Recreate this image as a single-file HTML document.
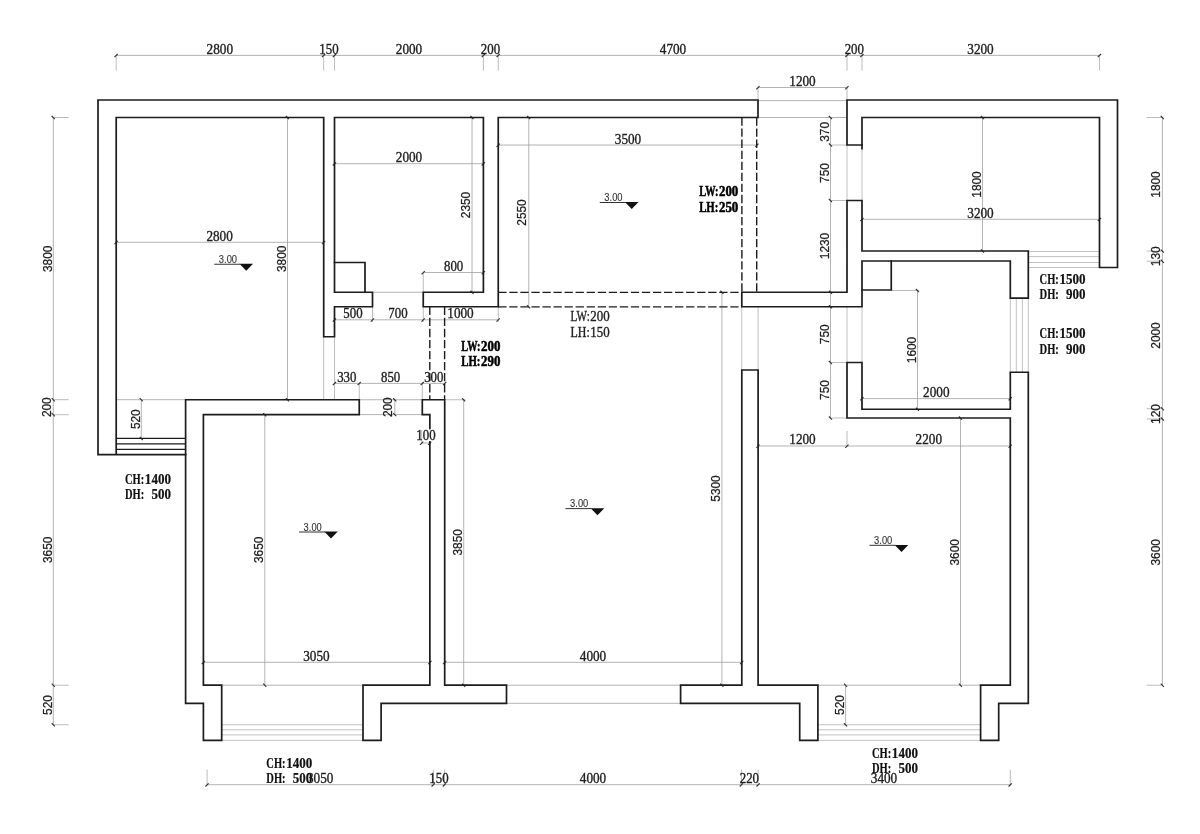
<!DOCTYPE html>
<html lang="zh"><head><meta charset="utf-8"><title>Floor plan</title>
<style>
html,body{margin:0;padding:0;background:#fff}
body{width:1200px;height:834px;overflow:hidden}
svg{display:block;filter:grayscale(1)}
.w{fill:none;stroke:#1c1c1c;stroke-width:1.7;stroke-linejoin:miter;stroke-linecap:square}
.w2{fill:none;stroke:#1c1c1c;stroke-width:1.25}
.t{fill:none;stroke:#a0a0a0;stroke-width:0.8}
.x{fill:none;stroke:#ababab;stroke-width:0.8}
.x2{fill:none;stroke:#adadad;stroke-width:0.75}
.k{fill:none;stroke:#333;stroke-width:1.15;stroke-linecap:butt}
.ds{fill:none;stroke:#1c1c1c;stroke-width:1.4;stroke-dasharray:8.3 2.75}
.m{fill:none;stroke:#333;stroke-width:1}
text{fill:#1e1e1e;stroke:#1e1e1e;stroke-width:0.36;font-family:"Liberation Serif",serif;font-size:13.8px}
.v{font-family:"Liberation Sans",sans-serif;font-size:13.1px;stroke-width:0.25}
.e{font-family:"Liberation Sans",sans-serif;font-size:11.5px;fill:#333;stroke:#333;stroke-width:0.12}
.b{font-weight:bold;font-size:13.6px;fill:#000;stroke:#000;stroke-width:0.5}
.r{font-size:13.6px}
.c{font-weight:bold;font-size:13.8px;fill:#111;stroke:#111;stroke-width:0.2}
</style></head>
<body>
<svg width="1200" height="834" viewBox="0 0 1200 834">
<rect x="0" y="0" width="1200" height="834" fill="#ffffff"/>
<g id="thin">
<path class="t" d="M116.2,55.4 L1099.5,55.4"/>
<path class="x" d="M116.2,55.4 L116.2,70.6"/>
<path class="x" d="M323.7,55.4 L323.7,70.6"/>
<path class="x" d="M334.5,55.4 L334.5,70.6"/>
<path class="x" d="M483.4,55.4 L483.4,70.6"/>
<path class="x" d="M498.25,55.4 L498.25,70.6"/>
<path class="x" d="M847,55.4 L847,70.6"/>
<path class="x" d="M862,55.4 L862,70.6"/>
<path class="x" d="M1099.5,55.4 L1099.5,70.6"/>
<path class="t" d="M758,87.5 L847,87.5"/>
<path class="x" d="M758,87.5 L758,100"/>
<path class="x" d="M847,87.5 L847,100"/>
<path class="t" d="M758,100.6 L847,100.6"/>
<path class="t" d="M758,117.5 L847,117.5"/>
<path class="t" d="M53.3,117.5 L53.3,724.75"/>
<path class="x" d="M53.3,117.5 L68.7,117.5"/>
<path class="x" d="M53.3,399.7 L68.7,399.7"/>
<path class="x" d="M53.3,414.7 L68.7,414.7"/>
<path class="x" d="M53.3,685.2 L68.7,685.2"/>
<path class="x" d="M53.3,724.75 L68.7,724.75"/>
<path class="t" d="M1162.4,117.5 L1162.4,685.2"/>
<path class="x" d="M1146.6,117.5 L1162.4,117.5"/>
<path class="x" d="M1146.6,251.1 L1162.4,251.1"/>
<path class="x" d="M1146.6,261.2 L1162.4,261.2"/>
<path class="x" d="M1146.6,408.7 L1162.4,408.7"/>
<path class="x" d="M1146.6,419 L1162.4,419"/>
<path class="x" d="M1146.6,685.2 L1162.4,685.2"/>
<path class="t" d="M207.1,784.7 L1010.3,784.7"/>
<path class="x" d="M207.1,769.6 L207.1,784.7"/>
<path class="x" d="M433.3,769.6 L433.3,784.7"/>
<path class="x" d="M444.5,769.6 L444.5,784.7"/>
<path class="x" d="M741.4,769.6 L741.4,784.7"/>
<path class="x" d="M758.2,769.6 L758.2,784.7"/>
<path class="x" d="M1010.3,769.6 L1010.3,784.7"/>
<path class="t" d="M116.2,242.3 L323.7,242.3"/>
<path class="t" d="M287.5,117.5 L287.5,399.7"/>
<path class="t" d="M116.2,399.7 L185.6,399.7"/>
<path class="t" d="M141.3,399.7 L141.3,438.4"/>
<path class="t" d="M334.5,163.7 L483.4,163.7"/>
<path class="t" d="M472,117.5 L472,292.25"/>
<path class="t" d="M423.25,272.5 L483.4,272.5"/>
<path class="x" d="M423.25,272.5 L423.25,292.25"/>
<path class="t" d="M372.5,292.25 L423.25,292.25"/>
<path class="t" d="M334.5,319.8 L498.25,319.8"/>
<path class="x" d="M334.5,306.75 L334.5,322"/>
<path class="x" d="M372.5,306.75 L372.5,322"/>
<path class="x" d="M423.25,306.75 L423.25,322"/>
<path class="x" d="M498.25,306.75 L498.25,322"/>
<path class="t" d="M498.25,145 L757,145"/>
<path class="t" d="M528.75,117.5 L528.75,306.75"/>
<path class="t" d="M334.5,383.4 L444.7,383.4"/>
<path class="x" d="M323.7,336.75 L323.7,399.75"/>
<path class="x" d="M334.5,336.75 L334.5,399.75"/>
<path class="x" d="M359.25,383.4 L359.25,399.75"/>
<path class="x" d="M422.3,383.4 L422.3,399.75"/>
<path class="t" d="M359.25,399.75 L422.3,399.75"/>
<path class="t" d="M359.25,414.6 L422.3,414.6"/>
<path class="t" d="M394.8,399.75 L394.8,414.6"/>
<path class="t" d="M421.7,443 L429.8,443"/>
<path class="x" d="M421.7,430 L421.7,443"/>
<path class="x" d="M446,399.75 L465.4,399.75"/>
<path class="t" d="M463.7,399.75 L463.7,685.2"/>
<path class="t" d="M721.9,292.25 L721.9,685.2"/>
<path class="x2" d="M741.8,306.75 L741.8,370"/>
<path class="x2" d="M758.1,306.75 L758.1,370"/>
<path class="x2" d="M847,306.75 L847,362.5"/>
<path class="x2" d="M862,306.75 L862,362.5"/>
<path class="x2" d="M847,145 L847,200.5"/>
<path class="x2" d="M862,145 L862,200.5"/>
<path class="t" d="M830.5,117.5 L830.5,418"/>
<path class="x" d="M830.5,117.5 L847,117.5"/>
<path class="x" d="M830.5,145 L847,145"/>
<path class="x" d="M830.5,200.5 L847,200.5"/>
<path class="x" d="M830.5,362.5 L847,362.5"/>
<path class="x" d="M830.5,418 L847,418"/>
<path class="t" d="M862,219.3 L1099.5,219.3"/>
<path class="t" d="M982.5,117.5 L982.5,251"/>
<path class="x2" d="M1028.3,251.5 L1099.5,251.5"/>
<path class="x2" d="M1028.3,256.6 L1099.5,256.6"/>
<path class="x2" d="M1028.3,262.5 L1099.5,262.5"/>
<path class="x2" d="M1028.3,267.5 L1099.5,267.5"/>
<path class="x" d="M891.25,290.5 L919,290.5"/>
<path class="t" d="M917.5,290.5 L917.5,409.25"/>
<path class="t" d="M862,398.6 L1010.3,398.6"/>
<path class="x2" d="M1010.3,298 L1010.3,372.25"/>
<path class="x2" d="M1016.3,298 L1016.3,372.25"/>
<path class="x2" d="M1022.4,298 L1022.4,372.25"/>
<path class="x2" d="M1028.3,298 L1028.3,372.25"/>
<path class="t" d="M758.1,446 L1010.3,446"/>
<path class="x" d="M847,431 L847,446"/>
<path class="t" d="M960.5,418 L960.5,685.2"/>
<path class="t" d="M203.4,662.3 L430,662.3"/>
<path class="t" d="M444.7,662.3 L741.8,662.3"/>
<path class="t" d="M264.8,414.7 L264.8,685.2"/>
<path class="t" d="M221.7,685.2 L363,685.2"/>
<path class="x2" d="M221.7,724.75 L363,724.75"/>
<path class="x2" d="M221.7,729.8 L363,729.8"/>
<path class="x2" d="M221.7,734.9 L363,734.9"/>
<path class="x2" d="M221.7,740.4 L363,740.4"/>
<path class="t" d="M506.5,685.2 L680.6,685.2"/>
<path class="t" d="M506.5,703.3 L680.6,703.3"/>
<path class="t" d="M817.9,685.2 L980.6,685.2"/>
<path class="x2" d="M817.9,724.75 L980.6,724.75"/>
<path class="x2" d="M817.9,729.8 L980.6,729.8"/>
<path class="x2" d="M817.9,734.9 L980.6,734.9"/>
<path class="x2" d="M817.9,740.4 L980.6,740.4"/>
<path class="t" d="M845.6,685.2 L845.6,724.75"/>
</g>
<g id="ticks">
<path class="k" d="M114.5,57.2 L117.7,54"/>
<path class="k" d="M322,57.2 L325.2,54"/>
<path class="k" d="M332.8,57.2 L336,54"/>
<path class="k" d="M481.7,57.2 L484.9,54"/>
<path class="k" d="M496.55,57.2 L499.75,54"/>
<path class="k" d="M845.3,57.2 L848.5,54"/>
<path class="k" d="M860.3,57.2 L863.5,54"/>
<path class="k" d="M1097.8,57.2 L1101,54"/>
<path class="k" d="M756.3,89.3 L759.5,86.1"/>
<path class="k" d="M845.3,89.3 L848.5,86.1"/>
<path class="k" d="M51.7,116 L54.8,119.1"/>
<path class="k" d="M51.7,398.2 L54.8,401.3"/>
<path class="k" d="M51.7,413.2 L54.8,416.3"/>
<path class="k" d="M51.7,683.7 L54.8,686.8"/>
<path class="k" d="M51.7,723.25 L54.8,726.35"/>
<path class="k" d="M1160.8,116 L1163.9,119.1"/>
<path class="k" d="M1160.8,249.6 L1163.9,252.7"/>
<path class="k" d="M1160.8,259.7 L1163.9,262.8"/>
<path class="k" d="M1160.8,407.2 L1163.9,410.3"/>
<path class="k" d="M1160.8,417.5 L1163.9,420.6"/>
<path class="k" d="M1160.8,683.7 L1163.9,686.8"/>
<path class="k" d="M205.4,786.5 L208.6,783.3"/>
<path class="k" d="M431.6,786.5 L434.8,783.3"/>
<path class="k" d="M442.8,786.5 L446,783.3"/>
<path class="k" d="M739.7,786.5 L742.9,783.3"/>
<path class="k" d="M756.5,786.5 L759.7,783.3"/>
<path class="k" d="M1008.6,786.5 L1011.8,783.3"/>
<path class="k" d="M114.5,244.1 L117.7,240.9"/>
<path class="k" d="M322,244.1 L325.2,240.9"/>
<path class="k" d="M285.9,116 L289,119.1"/>
<path class="k" d="M285.9,398.2 L289,401.3"/>
<path class="k" d="M139.7,398.2 L142.8,401.3"/>
<path class="k" d="M139.7,436.9 L142.8,440"/>
<path class="k" d="M332.8,165.5 L336,162.3"/>
<path class="k" d="M481.7,165.5 L484.9,162.3"/>
<path class="k" d="M470.4,116 L473.5,119.1"/>
<path class="k" d="M470.4,290.75 L473.5,293.85"/>
<path class="k" d="M421.55,274.3 L424.75,271.1"/>
<path class="k" d="M481.7,274.3 L484.9,271.1"/>
<path class="k" d="M332.8,321.6 L336,318.4"/>
<path class="k" d="M370.8,321.6 L374,318.4"/>
<path class="k" d="M421.55,321.6 L424.75,318.4"/>
<path class="k" d="M496.55,321.6 L499.75,318.4"/>
<path class="k" d="M496.55,146.8 L499.75,143.6"/>
<path class="k" d="M755.3,146.8 L758.5,143.6"/>
<path class="k" d="M527.15,116 L530.25,119.1"/>
<path class="k" d="M527.15,305.25 L530.25,308.35"/>
<path class="k" d="M332.8,385.2 L336,382"/>
<path class="k" d="M357.55,385.2 L360.75,382"/>
<path class="k" d="M420.6,385.2 L423.8,382"/>
<path class="k" d="M443,385.2 L446.2,382"/>
<path class="k" d="M393.2,398.25 L396.3,401.35"/>
<path class="k" d="M393.2,413.1 L396.3,416.2"/>
<path class="k" d="M420,444.8 L423.2,441.6"/>
<path class="k" d="M428.1,444.8 L431.3,441.6"/>
<path class="k" d="M462.1,398.25 L465.2,401.35"/>
<path class="k" d="M462.1,683.7 L465.2,686.8"/>
<path class="k" d="M720.3,290.75 L723.4,293.85"/>
<path class="k" d="M720.3,683.7 L723.4,686.8"/>
<path class="k" d="M828.9,116 L832,119.1"/>
<path class="k" d="M828.9,143.5 L832,146.6"/>
<path class="k" d="M828.9,199 L832,202.1"/>
<path class="k" d="M828.9,290.75 L832,293.85"/>
<path class="k" d="M828.9,305.25 L832,308.35"/>
<path class="k" d="M828.9,361 L832,364.1"/>
<path class="k" d="M828.9,416.5 L832,419.6"/>
<path class="k" d="M860.3,221.1 L863.5,217.9"/>
<path class="k" d="M1097.8,221.1 L1101,217.9"/>
<path class="k" d="M980.9,116 L984,119.1"/>
<path class="k" d="M980.9,249.5 L984,252.6"/>
<path class="k" d="M915.9,289 L919,292.1"/>
<path class="k" d="M915.9,407.75 L919,410.85"/>
<path class="k" d="M860.3,400.4 L863.5,397.2"/>
<path class="k" d="M1008.6,400.4 L1011.8,397.2"/>
<path class="k" d="M756.4,447.8 L759.6,444.6"/>
<path class="k" d="M845.3,447.8 L848.5,444.6"/>
<path class="k" d="M1008.6,447.8 L1011.8,444.6"/>
<path class="k" d="M958.9,416.5 L962,419.6"/>
<path class="k" d="M958.9,683.7 L962,686.8"/>
<path class="k" d="M201.7,664.1 L204.9,660.9"/>
<path class="k" d="M428.3,664.1 L431.5,660.9"/>
<path class="k" d="M443,664.1 L446.2,660.9"/>
<path class="k" d="M740.1,664.1 L743.3,660.9"/>
<path class="k" d="M263.2,413.2 L266.3,416.3"/>
<path class="k" d="M263.2,683.7 L266.3,686.8"/>
<path class="k" d="M844,683.7 L847.1,686.8"/>
<path class="k" d="M844,723.25 L847.1,726.35"/>
</g>
<g id="dash">
<path class="ds" d="M498.25,292.4 L741.8,292.4"/>
<path class="ds" d="M498.25,306.9 L741.8,306.9"/>
<path class="ds" d="M741.9,117.5 L741.9,292.25"/>
<path class="ds" d="M756.7,117.5 L756.7,292.25"/>
<path class="ds" d="M429.8,306.75 L429.8,399.75"/>
<path class="ds" d="M444.6,306.75 L444.6,399.75"/>
</g>
<g id="walls">
<path class="w" d="M185.6,454.7 L98,454.7 L98,100 L758,100 L758,117.5 L498.25,117.5 L498.25,306.75 L423.25,306.75 L423.25,292.25 L483.4,292.25 L483.4,117.5 L334.5,117.5 L334.5,292.25 L372.5,292.25 L372.5,306.75 L334.5,306.75 L334.5,336.75 L323.7,336.75 L323.7,117.5 L116.2,117.5 L116.2,454.7"/>
<path class="w2" d="M116.2,438.4 L185.6,438.4"/>
<path class="w2" d="M116.2,443.9 L185.6,443.9"/>
<path class="w2" d="M116.2,449.3 L185.6,449.3"/>
<path class="w" d="M334.5,262.5 L365,262.5 L365,292.25"/>
<path class="w" d="M847,145 L847,100 L1117.5,100 L1117.5,267.5 L1099.5,267.5 L1099.5,117.5 L862,117.5 L862,145Z"/>
<path class="w" d="M862,145 L862,148.6"/>
<path class="w" d="M847,200.5 L862,200.5 L862,251 L1028.3,251 L1028.3,298.2 L1010.3,298.2 L1010.3,261 L862,261 L862,306.75 L741.8,306.75 L741.8,292.25 L847,292.25Z"/>
<path class="w" d="M891.25,261 L891.25,290 L862,290"/>
<path class="w" d="M847,362.5 L862,362.5 L862,409.25 L1010.3,409.25 L1010.3,372.25 L1028.3,372.25 L1028.3,703.3 L998.7,703.3 L998.7,740.4 L980.6,740.4 L980.6,685.2 L1010.3,685.2 L1010.3,418 L847,418Z"/>
<path class="w" d="M741.8,370 L758.1,370 L758.1,685.2 L817.9,685.2 L817.9,740.4 L799.7,740.4 L799.7,703.3 L680.6,703.3 L680.6,685.2 L741.8,685.2Z"/>
<path class="w" d="M359.25,399.75 L185.6,399.75 L185.6,703.3 L203.4,703.3 L203.4,740.4 L221.7,740.4 L221.7,685.2 L203.4,685.2 L203.4,414.6 L359.25,414.6Z"/>
<path class="w" d="M422.3,399.75 L444.7,399.75 L444.7,685.2 L506.5,685.2 L506.5,703.3 L381.1,703.3 L381.1,740.4 L363,740.4 L363,685.2 L429.85,685.2 L429.85,414.6 L422.3,414.6Z"/>
</g>
<rect x="428.2" y="429.3" width="3.4" height="11.8" fill="#fff"/>
<g id="text">
<text class="d" x="219.8" y="53.6" text-anchor="middle" textLength="26.4" lengthAdjust="spacingAndGlyphs">2800</text>
<text class="d" x="329" y="53.6" text-anchor="middle" textLength="19.26" lengthAdjust="spacingAndGlyphs">150</text>
<text class="d" x="409" y="53.6" text-anchor="middle" textLength="26.4" lengthAdjust="spacingAndGlyphs">2000</text>
<text class="d" x="490.5" y="53.6" text-anchor="middle" textLength="19.26" lengthAdjust="spacingAndGlyphs">200</text>
<text class="d" x="673" y="53.6" text-anchor="middle" textLength="26.4" lengthAdjust="spacingAndGlyphs">4700</text>
<text class="d" x="854.3" y="53.6" text-anchor="middle" textLength="19.26" lengthAdjust="spacingAndGlyphs">200</text>
<text class="d" x="980.5" y="53.6" text-anchor="middle" textLength="26.4" lengthAdjust="spacingAndGlyphs">3200</text>
<text class="d" x="802.5" y="85.9" text-anchor="middle" textLength="26.4" lengthAdjust="spacingAndGlyphs">1200</text>
<text class="d" x="320.2" y="782.8" text-anchor="middle" textLength="26.4" lengthAdjust="spacingAndGlyphs">3050</text>
<text class="d" x="439" y="782.8" text-anchor="middle" textLength="19.26" lengthAdjust="spacingAndGlyphs">150</text>
<text class="d" x="593" y="782.8" text-anchor="middle" textLength="26.4" lengthAdjust="spacingAndGlyphs">4000</text>
<text class="d" x="749.4" y="782.8" text-anchor="middle" textLength="19.26" lengthAdjust="spacingAndGlyphs">220</text>
<text class="d" x="884" y="782.8" text-anchor="middle" textLength="26.4" lengthAdjust="spacingAndGlyphs">3400</text>
<text class="d" x="219.6" y="240.9" text-anchor="middle" textLength="26.4" lengthAdjust="spacingAndGlyphs">2800</text>
<text class="d" x="409" y="162.3" text-anchor="middle" textLength="26.4" lengthAdjust="spacingAndGlyphs">2000</text>
<text class="d" x="453.6" y="271" text-anchor="middle" textLength="19.26" lengthAdjust="spacingAndGlyphs">800</text>
<text class="d" x="353" y="318.1" text-anchor="middle" textLength="19.26" lengthAdjust="spacingAndGlyphs">500</text>
<text class="d" x="398" y="318.1" text-anchor="middle" textLength="19.26" lengthAdjust="spacingAndGlyphs">700</text>
<text class="d" x="460.5" y="318.1" text-anchor="middle" textLength="26.4" lengthAdjust="spacingAndGlyphs">1000</text>
<text class="d" x="346.8" y="381.8" text-anchor="middle" textLength="19.26" lengthAdjust="spacingAndGlyphs">330</text>
<text class="d" x="390.6" y="381.8" text-anchor="middle" textLength="19.26" lengthAdjust="spacingAndGlyphs">850</text>
<text class="d" x="433.8" y="381.8" text-anchor="middle" textLength="19.26" lengthAdjust="spacingAndGlyphs">300</text>
<text class="d" x="426" y="440.2" text-anchor="middle" textLength="19.26" lengthAdjust="spacingAndGlyphs">100</text>
<text class="d" x="628" y="143.5" text-anchor="middle" textLength="26.4" lengthAdjust="spacingAndGlyphs">3500</text>
<text class="d" x="980.5" y="217.9" text-anchor="middle" textLength="26.4" lengthAdjust="spacingAndGlyphs">3200</text>
<text class="d" x="936.3" y="396.7" text-anchor="middle" textLength="26.4" lengthAdjust="spacingAndGlyphs">2000</text>
<text class="d" x="802.5" y="444.1" text-anchor="middle" textLength="26.4" lengthAdjust="spacingAndGlyphs">1200</text>
<text class="d" x="928.8" y="444.1" text-anchor="middle" textLength="26.4" lengthAdjust="spacingAndGlyphs">2200</text>
<text class="d" x="316.4" y="660.6" text-anchor="middle" textLength="26.4" lengthAdjust="spacingAndGlyphs">3050</text>
<text class="d" x="593" y="660.6" text-anchor="middle" textLength="26.4" lengthAdjust="spacingAndGlyphs">4000</text>
<text class="v" transform="translate(51.8,258.8) rotate(-90)" text-anchor="middle" textLength="26.48" lengthAdjust="spacingAndGlyphs">3800</text>
<text class="v" transform="translate(51,407.2) rotate(-90)" text-anchor="middle" textLength="19.86" lengthAdjust="spacingAndGlyphs">200</text>
<text class="v" transform="translate(51.8,549.8) rotate(-90)" text-anchor="middle" textLength="26.48" lengthAdjust="spacingAndGlyphs">3650</text>
<text class="v" transform="translate(51.7,705) rotate(-90)" text-anchor="middle" textLength="19.86" lengthAdjust="spacingAndGlyphs">520</text>
<text class="v" transform="translate(1159.9,184.5) rotate(-90)" text-anchor="middle" textLength="26.48" lengthAdjust="spacingAndGlyphs">1800</text>
<text class="v" transform="translate(1159.9,256.3) rotate(-90)" text-anchor="middle" textLength="19.86" lengthAdjust="spacingAndGlyphs">130</text>
<text class="v" transform="translate(1159.9,335.5) rotate(-90)" text-anchor="middle" textLength="26.48" lengthAdjust="spacingAndGlyphs">2000</text>
<text class="v" transform="translate(1159.9,414) rotate(-90)" text-anchor="middle" textLength="19.86" lengthAdjust="spacingAndGlyphs">120</text>
<text class="v" transform="translate(1159.9,552.3) rotate(-90)" text-anchor="middle" textLength="26.48" lengthAdjust="spacingAndGlyphs">3600</text>
<text class="v" transform="translate(286.3,258.8) rotate(-90)" text-anchor="middle" textLength="26.48" lengthAdjust="spacingAndGlyphs">3800</text>
<text class="v" transform="translate(139.6,419.2) rotate(-90)" text-anchor="middle" textLength="19.86" lengthAdjust="spacingAndGlyphs">520</text>
<text class="v" transform="translate(469.8,205) rotate(-90)" text-anchor="middle" textLength="26.48" lengthAdjust="spacingAndGlyphs">2350</text>
<text class="v" transform="translate(526.1,212.5) rotate(-90)" text-anchor="middle" textLength="26.48" lengthAdjust="spacingAndGlyphs">2550</text>
<text class="v" transform="translate(392,407.2) rotate(-90)" text-anchor="middle" textLength="19.86" lengthAdjust="spacingAndGlyphs">200</text>
<text class="v" transform="translate(262.8,549.8) rotate(-90)" text-anchor="middle" textLength="26.48" lengthAdjust="spacingAndGlyphs">3650</text>
<text class="v" transform="translate(462.3,542.3) rotate(-90)" text-anchor="middle" textLength="26.48" lengthAdjust="spacingAndGlyphs">3850</text>
<text class="v" transform="translate(720.1,488.5) rotate(-90)" text-anchor="middle" textLength="26.48" lengthAdjust="spacingAndGlyphs">5300</text>
<text class="v" transform="translate(828.8,131.9) rotate(-90)" text-anchor="middle" textLength="19.86" lengthAdjust="spacingAndGlyphs">370</text>
<text class="v" transform="translate(828.8,173) rotate(-90)" text-anchor="middle" textLength="19.86" lengthAdjust="spacingAndGlyphs">750</text>
<text class="v" transform="translate(828.8,246) rotate(-90)" text-anchor="middle" textLength="26.48" lengthAdjust="spacingAndGlyphs">1230</text>
<text class="v" transform="translate(828.8,334.3) rotate(-90)" text-anchor="middle" textLength="19.86" lengthAdjust="spacingAndGlyphs">750</text>
<text class="v" transform="translate(828.8,390) rotate(-90)" text-anchor="middle" textLength="19.86" lengthAdjust="spacingAndGlyphs">750</text>
<text class="v" transform="translate(980.6,184.5) rotate(-90)" text-anchor="middle" textLength="26.48" lengthAdjust="spacingAndGlyphs">1800</text>
<text class="v" transform="translate(915.6,350) rotate(-90)" text-anchor="middle" textLength="26.48" lengthAdjust="spacingAndGlyphs">1600</text>
<text class="v" transform="translate(958.8,552.3) rotate(-90)" text-anchor="middle" textLength="26.48" lengthAdjust="spacingAndGlyphs">3600</text>
<text class="v" transform="translate(843.6,705) rotate(-90)" text-anchor="middle" textLength="19.86" lengthAdjust="spacingAndGlyphs">520</text>
<path class="m" d="M214.25,264.25 L240.25,264.25"/>
<path fill="#111" d="M239.45,263.85 L253.05,263.85 L246.25,270.85Z"/>
<text class="e" x="218.85" y="262.85" textLength="18.2" lengthAdjust="spacingAndGlyphs">3.00</text>
<path class="m" d="M599.75,202.5 L625.75,202.5"/>
<path fill="#111" d="M624.95,202.1 L638.55,202.1 L631.75,209.1Z"/>
<text class="e" x="604.35" y="201.1" textLength="18.2" lengthAdjust="spacingAndGlyphs">3.00</text>
<path class="m" d="M565.5,508.6 L591.5,508.6"/>
<path fill="#111" d="M590.7,508.2 L604.3,508.2 L597.5,515.2Z"/>
<text class="e" x="570.1" y="507.2" textLength="18.2" lengthAdjust="spacingAndGlyphs">3.00</text>
<path class="m" d="M299,532 L325,532"/>
<path fill="#111" d="M324.2,531.6 L337.8,531.6 L331,538.6Z"/>
<text class="e" x="303.6" y="530.6" textLength="18.2" lengthAdjust="spacingAndGlyphs">3.00</text>
<path class="m" d="M869.5,545.3 L895.5,545.3"/>
<path fill="#111" d="M894.7,544.9 L908.3,544.9 L901.5,551.9Z"/>
<text class="e" x="874.1" y="543.9" textLength="18.2" lengthAdjust="spacingAndGlyphs">3.00</text>
<text class="b" x="699.2" y="196.3" textLength="19.14" lengthAdjust="spacingAndGlyphs">LW:</text>
<text class="b" x="718.94" y="196.3" textLength="19.34" lengthAdjust="spacingAndGlyphs">200</text>
<text class="b" x="699.2" y="212.4" textLength="19.14" lengthAdjust="spacingAndGlyphs">LH:</text>
<text class="b" x="718.94" y="212.4" textLength="19.34" lengthAdjust="spacingAndGlyphs">250</text>
<text class="b" x="461.3" y="351.2" textLength="19.14" lengthAdjust="spacingAndGlyphs">LW:</text>
<text class="b" x="481.04" y="351.2" textLength="19.34" lengthAdjust="spacingAndGlyphs">200</text>
<text class="b" x="461.3" y="366.4" textLength="19.14" lengthAdjust="spacingAndGlyphs">LH:</text>
<text class="b" x="481.04" y="366.4" textLength="19.34" lengthAdjust="spacingAndGlyphs">290</text>
<text class="r" x="570.6" y="321.1" textLength="19.14" lengthAdjust="spacingAndGlyphs">LW:</text>
<text class="r" x="590.34" y="321.1" textLength="19.34" lengthAdjust="spacingAndGlyphs">200</text>
<text class="r" x="570.6" y="336.7" textLength="19.14" lengthAdjust="spacingAndGlyphs">LH:</text>
<text class="r" x="590.34" y="336.7" textLength="19.34" lengthAdjust="spacingAndGlyphs">150</text>
<text class="c" x="125" y="483.6" textLength="19.26" lengthAdjust="spacingAndGlyphs">CH:</text>
<text class="c" x="144.86" y="483.6" textLength="26.08" lengthAdjust="spacingAndGlyphs">1400</text>
<text class="c" x="125" y="499" textLength="19.26" lengthAdjust="spacingAndGlyphs">DH:</text>
<text class="c" x="151.48" y="499" textLength="19.46" lengthAdjust="spacingAndGlyphs">500</text>
<text class="c" x="266.3" y="767.5" textLength="19.26" lengthAdjust="spacingAndGlyphs">CH:</text>
<text class="c" x="286.16" y="767.5" textLength="26.08" lengthAdjust="spacingAndGlyphs">1400</text>
<text class="c" x="266.3" y="782.9" textLength="19.26" lengthAdjust="spacingAndGlyphs">DH:</text>
<text class="c" x="292.78" y="782.9" textLength="19.46" lengthAdjust="spacingAndGlyphs">500</text>
<text class="c" x="872" y="757.5" textLength="19.26" lengthAdjust="spacingAndGlyphs">CH:</text>
<text class="c" x="891.86" y="757.5" textLength="26.08" lengthAdjust="spacingAndGlyphs">1400</text>
<text class="c" x="872" y="772.7" textLength="19.26" lengthAdjust="spacingAndGlyphs">DH:</text>
<text class="c" x="898.48" y="772.7" textLength="19.46" lengthAdjust="spacingAndGlyphs">500</text>
<text class="c" x="1039.6" y="283.8" textLength="19.26" lengthAdjust="spacingAndGlyphs">CH:</text>
<text class="c" x="1059.46" y="283.8" textLength="26.08" lengthAdjust="spacingAndGlyphs">1500</text>
<text class="c" x="1039.6" y="299.3" textLength="19.26" lengthAdjust="spacingAndGlyphs">DH:</text>
<text class="c" x="1066.08" y="299.3" textLength="19.46" lengthAdjust="spacingAndGlyphs">900</text>
<text class="c" x="1039.6" y="337.6" textLength="19.26" lengthAdjust="spacingAndGlyphs">CH:</text>
<text class="c" x="1059.46" y="337.6" textLength="26.08" lengthAdjust="spacingAndGlyphs">1500</text>
<text class="c" x="1039.6" y="353.5" textLength="19.26" lengthAdjust="spacingAndGlyphs">DH:</text>
<text class="c" x="1066.08" y="353.5" textLength="19.46" lengthAdjust="spacingAndGlyphs">900</text>
</g>
</svg>
</body></html>
